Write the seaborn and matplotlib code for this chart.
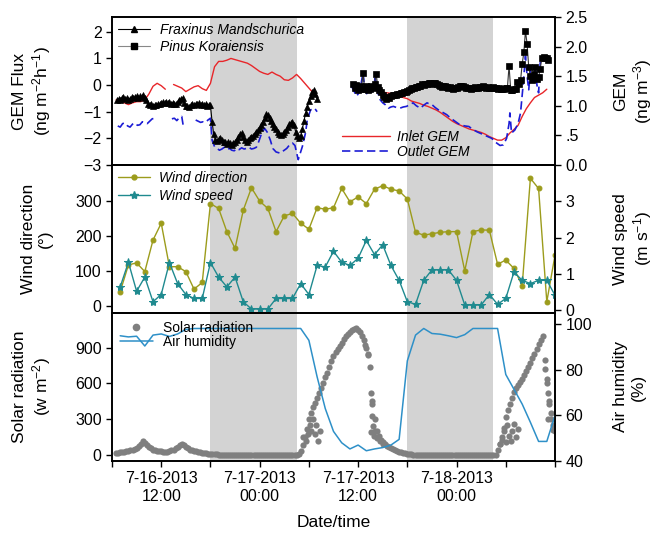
import numpy as np
import matplotlib
matplotlib.use("Agg")
import matplotlib.pyplot as plt
from matplotlib.lines import Line2D
import seaborn as sns

# =========================
# DATA (hours since 7-16-2013 00:00)
# =========================

# Fraxinus Mandschurica GEM flux (ng m-2 h-1), every 0.2 h
frax_t = np.round(np.arange(6.6, 31.01, 0.2), 2)
frax_v = [-0.58, -0.52, -0.56, -0.48, -0.45, -0.52, -0.50, -0.55, -0.51, -0.46,
          -0.49, -0.44, -0.43, -0.47, -0.42, -0.45, -0.39, -0.48, -0.58, -0.70,
          -0.76, -0.72, -0.78, -0.74, -0.76, -0.70, -0.73, -0.66, -0.64, -0.69,
          -0.62, -0.66, -0.64, -0.70, -0.66, -0.72, -0.70, -0.64, -0.58, -0.52,
          -0.48, -0.66, -0.78, -0.80, -0.82, -0.76, -0.72, -0.74, -0.70, -0.72,
          -0.68, -0.74, -0.70, -0.75, -0.72, -0.78, -0.74, -0.76, -1.38, -1.85,
          -2.06, -2.10, -2.02, -2.00, -2.08, -2.12, -2.13, -2.20, -2.15, -2.19,
          -2.24, -2.16, -2.13, -2.05, -1.95, -1.85, -1.81, -1.95, -2.08, -2.13,
          -2.05, -1.98, -1.94, -1.90, -1.82, -1.75, -1.70, -1.62, -1.51, -1.38,
          -1.22, -1.10, -1.12, -1.25, -1.35, -1.48, -1.58, -1.66, -1.76, -1.85,
          -1.88, -1.84, -1.78, -1.70, -1.58, -1.48, -1.42, -1.38, -1.50, -1.78,
          -1.92, -1.98, -1.90, -1.65, -1.35, -1.05, -0.82, -0.60, -0.42, -0.28,
          -0.20, -0.35, -0.51]

# Pinus Koraiensis GEM flux (ng m-2 h-1), every 0.2 h
pinus_t = np.round(np.arange(35.4, 59.21, 0.2), 2)
pinus_v = [0.05, -0.10, 0.00, -0.20, -0.05, -0.15, 0.44, -0.14, -0.05, -0.18,
           -0.14, -0.02, -0.10, 0.05, 0.42, -0.08, -0.20, -0.27, -0.38, -0.45,
           -0.51, -0.45, -0.48, -0.42, -0.39, -0.36, -0.38, -0.35, -0.33, -0.31,
           -0.30, -0.28, -0.27, -0.22, -0.20, -0.14, -0.12, -0.10, -0.08, -0.06,
           -0.04, -0.02, 0.02, 0.00, 0.03, 0.04, 0.06, 0.08, 0.05, 0.07,
           0.06, 0.02, 0.00, -0.02, -0.06, -0.03, -0.05, -0.08, -0.12, -0.09,
           -0.11, -0.14, -0.12, -0.10, -0.06, -0.05, -0.02, -0.03, -0.08, -0.10,
           -0.12, -0.10, -0.14, -0.10, -0.08, -0.11, -0.10, -0.08, -0.07, -0.05,
           -0.08, -0.10, -0.08, -0.10, -0.12, -0.09, -0.10, -0.13, -0.14, -0.12,
           -0.15, -0.16, -0.14, -0.12, -0.10, 0.72, -0.18, -0.20, -0.16, -0.14,
           0.10, 0.05, 0.17, 0.79, 1.22, 2.03, 1.53, 0.66, 0.35, 0.17,
           0.42, 0.66, 0.23, 0.30, 0.60, 1.03, 1.05, 1.03, 1.00, 0.94]

# Inlet GEM (ng m-3), every 0.5 h, nan = no data
nan = np.nan
inlet_t = np.arange(6.5, 60.01, 0.5)
inlet_v = [1.10, 1.07, 1.05, 1.02, 1.05, 1.07, 1.07, 1.10, 1.20, 1.33,
           1.38, 1.34, 1.28, nan, 1.36, 1.33, 1.30, 1.24, 1.28, 1.32,
           1.34, 1.29, 1.26, 1.38, 1.66, 1.75, 1.75, 1.77, 1.80, 1.78,
           1.76, 1.74, 1.72, 1.68, 1.63, 1.58, 1.55, 1.53, 1.57, 1.53,
           1.50, 1.44, 1.43, 1.47, 1.53, 1.46, 1.38, 1.30, 1.22, 1.17,
           nan, nan, nan, nan, nan, nan, nan, nan, 1.31, 1.28,
           1.28, 1.30, 1.30, 1.28, 1.25, 1.23, 1.22, 1.21, 1.18, 1.16,
           1.14, 1.12, 1.08, 1.06, 1.04, 1.01, 0.99, 0.96, 0.93, 0.89,
           0.84, 0.79, 0.74, 0.70, 0.67, 0.64, 0.61, 0.59, 0.57, 0.55,
           0.52, 0.48, 0.45, 0.42, 0.42, 0.46, 0.54, 0.60, 0.67, 0.82,
           0.95, 1.05, 1.14, 1.18, 1.22, 1.28, nan, nan]

# Outlet GEM (ng m-3), (hour, value) readings, nan = no data
outlet = [(6.7, 0.66), (7.0, 0.64), (7.3, 0.70), (7.6, 0.71), (7.9, 0.66), (8.2, 0.64),
          (8.5, 0.69), (8.8, 0.71), (9.1, 0.67), (9.4, 0.68), (9.7, 0.73), (10.0, 0.72),
          (10.3, 0.70), (10.6, 0.74), (10.9, 0.78), (11.2, 0.79), (11.5, nan),
          (13.3, 0.78), (13.6, 0.79), (13.9, 0.75), (14.2, 0.80), (14.5, 0.82), (14.7, 0.65),
          (15.2, nan),
          (16.2, 0.76), (16.5, 0.74), (16.8, 0.72), (17.1, 0.73), (17.4, 0.72), (17.7, 0.76),
          (18.0, 0.79), (18.2, 0.42), (18.5, 0.31), (18.8, 0.28), (19.1, 0.25), (19.4, 0.27),
          (19.7, 0.30), (20.0, 0.26), (20.3, 0.28), (20.6, 0.25), (20.9, 0.24), (21.2, 0.28),
          (21.5, 0.26), (21.8, 0.29), (22.1, 0.27), (22.4, 0.28), (22.7, 0.30), (23.0, 0.27),
          (23.3, 0.28), (23.6, 0.30), (23.9, 0.40), (24.2, 0.52), (24.6, 0.62), (24.9, 0.56),
          (25.3, 0.42), (25.6, 0.28), (26.0, 0.22), (26.5, 0.20), (26.9, 0.24), (27.3, 0.28),
          (27.7, 0.35), (28.0, 0.37), (28.3, 0.33), (28.7, 0.09), (29.2, 0.31), (29.6, 0.55),
          (29.8, 0.76), (30.2, 0.93), (30.7, 0.96), (31.0, 0.90), (33.0, nan),
          (35.2, 1.33), (35.5, 1.25), (35.8, 1.16), (36.2, 1.24), (36.6, 1.56), (36.8, 1.30),
          (37.1, 1.19), (37.4, 1.22), (37.7, 1.24), (38.1, 1.47), (38.4, 1.22), (38.7, 1.10),
          (39.0, 1.05), (39.3, 1.02), (39.7, 0.96), (40.0, 0.98), (40.3, 0.99), (40.7, 0.97),
          (41.1, 0.96), (41.5, 0.98), (41.9, 0.99), (42.3, 1.02), (42.7, 1.05), (43.1, 1.00),
          (43.6, 0.96), (44.0, 1.01), (44.4, 1.05), (44.7, 1.03), (45.0, 1.02), (45.4, 0.97),
          (45.8, 0.93), (46.3, 0.89), (46.8, 0.85), (47.2, 0.80), (47.6, 0.76), (48.0, 0.72),
          (48.4, 0.68), (49.0, 0.66), (49.5, 0.65), (50.0, 0.60), (50.5, 0.56), (51.0, 0.53),
          (51.3, 0.51), (51.8, 0.48), (52.3, 0.45), (52.6, 0.40), (52.9, 0.37), (53.3, 0.33),
          (53.7, 0.34), (54.1, 0.45), (54.4, 0.70), (54.5, 0.88), (54.7, 0.54), (55.1, 0.59),
          (55.5, 0.70), (55.8, 0.88), (56.1, 1.33), (56.4, 1.84), (56.6, 1.50), (56.8, 1.27),
          (57.0, 1.61), (57.3, 1.39), (57.6, 1.67), (57.8, 1.35), (58.0, 1.22), (58.2, 1.73),
          (58.6, 1.84), (59.0, 1.80), (59.2, 1.83)]

# hourly wind and humidity
hour_t = np.arange(7, 61)
wind_dir = [41, 117, 123, 98, 188, 236, 112, 112, 98, 48,
            67, 292, 278, 212, 164, 273, 337, 299, 278, 212,
            257, 264, 236, 219, 280, 276, 280, 335, 297, 311,
            292, 333, 343, 333, 328, 305, 210, 202, 206, 210,
            212, 212, 100, 212, 217, 216, 119, 131, 107, 58,
            364, 335, 12, 145]
wind_speed = [0.64, 1.32, 0.52, 0.91, 0.23, 0.43, 1.31, 0.73, 0.43, 0.32,
              0.32, 1.31, 0.91, 0.64, 0.91, 0.23, 0.03, 0.03, 0.03, 0.32,
              0.32, 0.32, 0.73, 0.43, 1.23, 1.19, 1.62, 1.32, 1.23, 1.43,
              1.92, 1.53, 1.80, 1.23, 0.82, 0.23, 0.16, 0.82, 1.11, 1.11,
              1.11, 0.82, 0.14, 0.14, 0.14, 0.43, 0.16, 0.32, 1.05, 0.82,
              0.73, 0.82, 0.82, 0.41]
humidity = [95, 94.5, 94.8, 90.5, 95.3, 95.8, 94.7, 95.8, 97.8,
            98.2, 98.2, 98.2, 98.2, 98.2, 98.2, 98.2, 98.2, 98.2, 98.2, 98.2, 98.2, 98.2, 98.2,
            93, 77, 63, 53, 48, 45.3, 47, 44.5, 45.3, 45.9, 47, 49.5, 84, 95.3, 98.2, 96,
            95.7, 95, 94.2, 95.5, 98.2, 98.2, 98.2, 98.2, 78, 71.5, 65, 57, 48.6, 48.6, 60]

# solar radiation (W m-2), every 0.25 h, plus scattered readings
solar_t = np.arange(6.5, 60.01, 0.25)
solar_v = [20, 21, 22, 24, 25, 30, 35, 40, 45, 52,
           60, 75, 90, 120, 100, 80, 65, 55, 45, 40,
           35, 32, 30, 29, 28, 29, 30, 38, 45, 58,
           70, 85, 95, 82, 70, 55, 45, 40, 35, 30,
           25, 22, 20, 18, 15, 12, 10,
           8, 6, 5, 4,
           2, 2, 2, 2, 2, 2, 2, 2, 2, 2, 2, 2, 2, 2, 2, 2, 2, 2, 2, 2,
           2, 2, 2, 2, 2, 2, 2, 2, 2, 2, 2, 2, 2, 2, 2, 2, 2,
           4, 8,
           30, 80, 150, 220, 300, 350, 400, 440, 480, 520,
           560, 600, 650, 690, 740, 790, 830, 860, 890, 915,
           940, 970, 1000, 1015, 1030, 1045, 1060, 1065, 1050, 1030,
           1000, 960, 900, 840, 740, 450, 300, 200, 160, 130,
           110, 90, 75, 65, 55, 48, 40, 34, 28, 22,
           18, 14, 10, 7, 5, 3,
           2, 2, 2, 2, 2, 2, 2, 2, 2, 2, 2, 2, 2, 2, 2, 2, 2, 2, 2, 2,
           2, 2, 2, 2, 2, 2, 2, 2, 2, 2, 2, 2, 2, 2, 2, 2, 2, 2, 2, 2,
           40, 90, 150, 230, 320, 380, 430, 480, 530, 560,
           590, 615, 640, 670, 700, 735, 770, 810, 850, 890,
           930, 965, 1000, 800, 600, 450, 300, 250, 200]
solar_extra = [(29.3, 150), (29.6, 120), (29.9, 180), (30.1, 250), (30.3, 200), (30.5, 300),
               (30.7, 180), (30.9, 250), (31.1, 120), (31.3, 200),
               (36.8, 920), (37.2, 850), (37.6, 520), (37.7, 430), (37.75, 330), (37.8, 245),
               (37.6, 190), (37.9, 160), (38.1, 200), (38.3, 140), (38.7, 120), (39.0, 90),
               (53.3, 90), (53.6, 130), (53.8, 200), (54.0, 110), (54.2, 250), (54.4, 160),
               (54.6, 120), (54.8, 200), (55.0, 260), (55.2, 150), (55.5, 220),
               (58.8, 720), (59.0, 640), (59.2, 520), (59.3, 430), (59.5, 350), (59.7, 210),
               (59.1, 300)]

night_spans = [(18, 28.5), (42, 52.5)]
x_ticks = np.arange(6, 61, 6)
x_ticklabels = ['', '7-16-2013\n12:00', '', '7-17-2013\n00:00', '',
                '7-17-2013\n12:00', '', '7-18-2013\n00:00', '', '']
gem_ticks = [0, 0.5, 1.0, 1.5, 2.0, 2.5]
gem_ticklabels = ['0.0', '.5', '1.0', '1.5', '2.0', '2.5']

# =========================
# STYLE
# =========================

sns.set_style("ticks")
plt.rcParams['font.family'] = ['Liberation Sans', 'DejaVu Sans']
plt.rcParams['mathtext.fontset'] = 'custom'
plt.rcParams['mathtext.rm'] = 'Liberation Sans'
plt.rcParams['mathtext.it'] = 'Liberation Sans:italic'
plt.rcParams['mathtext.default'] = 'regular'
plt.rcParams['font.size'] = 11.5
plt.rcParams['axes.labelsize'] = 12.5
plt.rcParams['axes.linewidth'] = 1.2
for k in ['axes.edgecolor', 'xtick.color', 'ytick.color', 'text.color', 'axes.labelcolor']:
    plt.rcParams[k] = 'black'

SHADE = '#d3d3d3'
RED, BLUE = '#e8262a', '#1c1cd6'
OLIVE, TEAL = '#9c9c1c', '#1f8a8f'
HUM, SOL = '#2e90c8', '#7f7f7f'


def runs(t, v):
    # split a series into pieces at nan gaps
    t = np.asarray(t, float)
    v = np.asarray(v, float)
    ok = np.isfinite(v).astype(int)
    edges = np.flatnonzero(np.diff(np.r_[0, ok, 0]))
    return [(t[a:b], v[a:b]) for a, b in zip(edges[::2], edges[1::2])]


def line(ax, t, v, **kw):
    for tt, vv in runs(t, v):
        sns.lineplot(x=tt, y=vv, ax=ax, estimator=None, sort=False, **kw)


fig = plt.figure(figsize=(6.53, 5.34), dpi=100)
L, W = 112 / 653, 443 / 653
H = 148 / 534
ax1 = fig.add_axes([L, 1 - 165 / 534, W, H])
ax2 = fig.add_axes([L, 1 - 313 / 534, W, H])
ax3 = fig.add_axes([L, 1 - 461 / 534, W, H])

# =========================
# TOP: GEM flux / GEM
# =========================

ax1r = ax1.twinx()
ax1.set_zorder(ax1r.get_zorder() + 1)
ax1.patch.set_visible(False)
for a, b in night_spans:
    ax1r.axvspan(a, b, color=SHADE, lw=0, zorder=0)

line(ax1r, inlet_t, inlet_v, color=RED, linewidth=1.0)
out_t = [p[0] for p in outlet]
out_v = [p[1] for p in outlet]
line(ax1r, out_t, out_v, color=BLUE, linewidth=1.2, linestyle=(0, (5, 2.5)))

line(ax1, frax_t, frax_v, color='black', linewidth=0.8, marker='^', markersize=4.5,
     markeredgecolor='black', markeredgewidth=0.5)
line(ax1, pinus_t, pinus_v, color='#333333', linewidth=0.8, marker='s', markersize=4,
     markerfacecolor='black', markeredgecolor='black', markeredgewidth=0.5)

ax1.set_ylim(-3, 2.55)
ax1.set_yticks([-3, -2, -1, 0, 1, 2])
ax1r.set_ylim(0, 2.5)
ax1r.set_yticks(gem_ticks)
ax1r.set_yticklabels(gem_ticklabels)
ax1.set_ylabel('GEM Flux\n(ng m$^{-2}$h$^{-1}$)')
ax1r.set_ylabel('GEM\n(ng m$^{-3}$)')

h_top = [Line2D([], [], color='black', lw=0.8, marker='^', ms=4.5),
         Line2D([], [], color='#888888', lw=0.8, marker='s', ms=4, mfc='black', mec='black')]
ax1.legend(h_top, ['Fraxinus Mandschurica', 'Pinus Koraiensis'], loc='upper left',
           frameon=False, prop={'style': 'italic', 'size': 10}, handlelength=2.3,
           labelspacing=0.2, borderaxespad=0.15, borderpad=0.3, handletextpad=0.7)
h_gem = [Line2D([], [], color=RED, lw=1.0),
         Line2D([], [], color=BLUE, lw=1.2, ls=(0, (5, 2.5)))]
ax1r.legend(h_gem, ['Inlet GEM', 'Outlet GEM'], loc='lower left',
            bbox_to_anchor=(0.52, 0.04), frameon=False, borderaxespad=0, borderpad=0,
            prop={'style': 'italic', 'size': 10}, handlelength=3.4, labelspacing=0.1,
            handletextpad=0.5)

# =========================
# MIDDLE: wind
# =========================

ax2r = ax2.twinx()
for a, b in night_spans:
    ax2.axvspan(a, b, color=SHADE, lw=0, zorder=0)
line(ax2, hour_t, wind_dir, color=OLIVE, linewidth=1.0, marker='o', markersize=3.5,
     markeredgecolor=OLIVE)
line(ax2r, hour_t, wind_speed, color=TEAL, linewidth=1.0, marker='*', markersize=6,
     markeredgecolor=TEAL)
ax2.set_ylim(-20, 402)
ax2.set_yticks([0, 100, 200, 300])
ax2r.set_ylim(-0.08, 4.0)
ax2r.set_yticks([0, 1, 2, 3])
ax2.set_ylabel('Wind direction\n(°)')
ax2r.set_ylabel('Wind speed\n(m s$^{-1}$)')
h_wind = [Line2D([], [], color=OLIVE, lw=1.0, marker='o', ms=3.5),
          Line2D([], [], color=TEAL, lw=1.0, marker='*', ms=6)]
ax2r.legend(h_wind, ['Wind direction', 'Wind speed'], loc='upper left', frameon=False,
            prop={'style': 'italic', 'size': 10}, handlelength=2.3, labelspacing=0.3,
            borderaxespad=0.1, borderpad=0.3, handletextpad=0.7)

# =========================
# BOTTOM: solar radiation / humidity
# =========================

ax3r = ax3.twinx()
for a, b in night_spans:
    ax3.axvspan(a, b, color=SHADE, lw=0, zorder=0)
sns.scatterplot(x=solar_t, y=solar_v, ax=ax3, color=SOL, s=20, linewidth=0)
sns.scatterplot(x=[p[0] for p in solar_extra], y=[p[1] for p in solar_extra], ax=ax3,
                color=SOL, s=20, linewidth=0)
line(ax3r, hour_t, humidity, color=HUM, linewidth=1.1)
ax3.set_ylim(-50, 1190)
ax3.set_yticks([0, 300, 600, 900])
ax3r.set_ylim(40, 105)
ax3r.set_yticks([40, 60, 80, 100])
ax3.set_ylabel('Solar radiation\n(w m$^{-2}$)')
ax3r.set_ylabel('Air humidity\n(%)')
h_bot = [Line2D([], [], color=SOL, ls='none', marker='o', ms=4.5),
         Line2D([], [], color=HUM, lw=1.1)]
ax3r.legend(h_bot, ['Solar radiation', 'Air humidity'], loc='upper left', frameon=False,
            prop={'size': 10}, handlelength=2.4, labelspacing=0.05, borderaxespad=0.15,
            handletextpad=0.7)

# =========================
# AXES COMMON
# =========================

for ax in (ax1, ax2, ax3, ax1r, ax2r, ax3r):
    ax.set_xlim(6, 60)
    ax.tick_params(axis='y', direction='out', length=4, width=1, labelsize=11.5)
    for s in ax.spines.values():
        s.set_visible(True)
        s.set_linewidth(1.2)
        s.set_color('black')

for ax in (ax1, ax2):
    ax.tick_params(axis='x', bottom=False, labelbottom=False)
    ax.set_xlabel('')

ax3.set_xticks(x_ticks)
ax3.set_xticklabels(x_ticklabels)
ax3.tick_params(axis='x', direction='out', length=4, width=1, labelsize=11.5)
ax3.set_xlabel('Date/time', fontsize=12.5, labelpad=8)

for ax in (ax1, ax2, ax3):
    ax.yaxis.set_label_coords(-0.133, 0.5)
for ax in (ax1r, ax2r, ax3r):
    ax.yaxis.set_label_coords(1.131, 0.5)

fig.savefig('out.png', dpi=100)
